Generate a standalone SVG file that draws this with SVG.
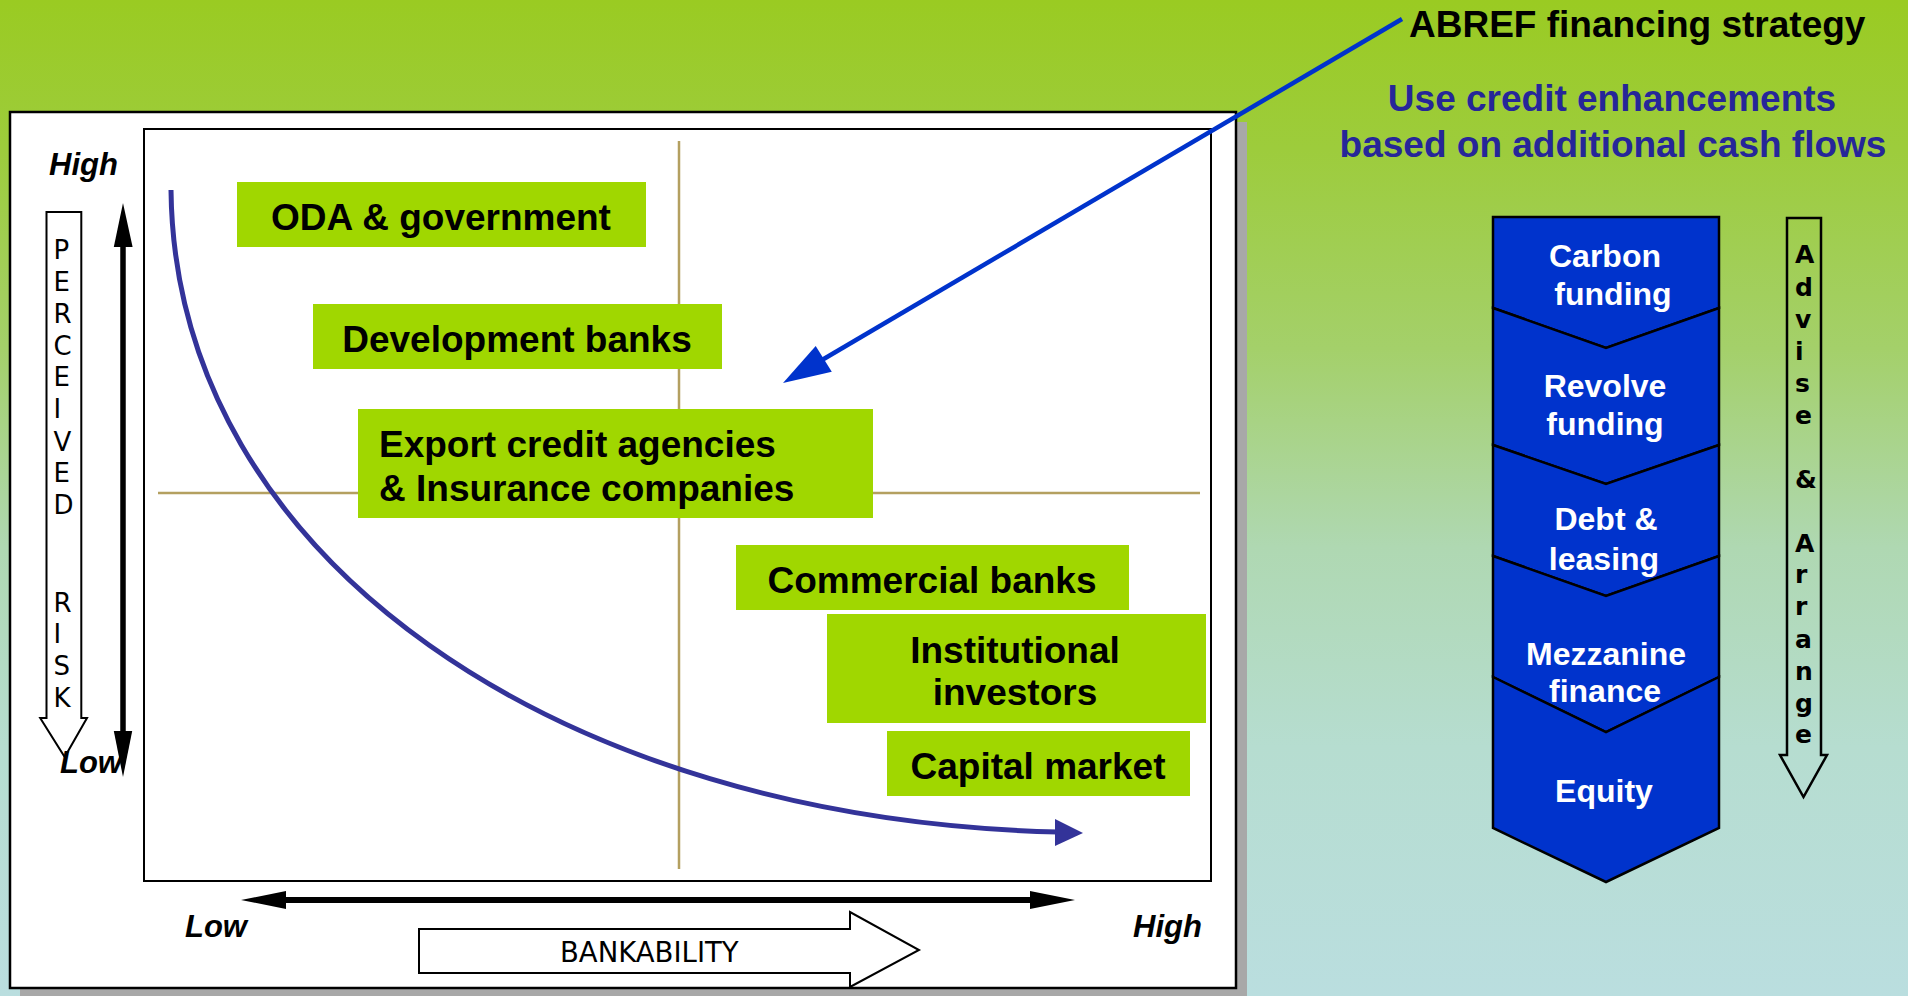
<svg xmlns="http://www.w3.org/2000/svg" width="1908" height="996" viewBox="0 0 1908 996">
<defs>
<linearGradient id="bg" x1="0" y1="0" x2="0" y2="1">
<stop offset="0" stop-color="#9ACB22"/>
<stop offset="0.15" stop-color="#9DCC3C"/>
<stop offset="0.35" stop-color="#A4D06A"/>
<stop offset="0.55" stop-color="#AFD8B2"/>
<stop offset="0.75" stop-color="#B6DDD0"/>
<stop offset="1" stop-color="#BADEDF"/>
</linearGradient>
<style>
.box{fill:#A0D700}
.bt{font-family:"Liberation Sans",Arial,sans-serif;font-weight:bold;font-size:37px;fill:#000}
.ct{font-family:"Liberation Sans",Arial,sans-serif;font-weight:bold;font-size:32px;fill:#fff;text-anchor:middle}
.seg{fill:#0033CC;stroke:#000;stroke-width:2.5;stroke-linejoin:miter}
.vl{font-family:"DejaVu Sans",Verdana,sans-serif;font-size:26px;fill:#000}
.bk{font-family:"DejaVu Sans",Verdana,sans-serif;font-size:27.5px;fill:#000}
.vb{font-family:"DejaVu Sans",Verdana,sans-serif;font-weight:bold;font-size:25px;fill:#000}
.ax{font-family:"Liberation Sans",Arial,sans-serif;font-weight:bold;font-style:italic;font-size:31px;fill:#000}
.hd{font-family:"Liberation Sans",Arial,sans-serif;font-weight:bold;font-size:37px;text-anchor:middle;fill:#262699}
.q{stroke:#B4A060;stroke-width:2.5;fill:none}
</style>
</defs>
<rect x="0" y="0" width="1908" height="996" fill="url(#bg)"/>

<g id="panel">
<rect x="20" y="122" width="1227" height="876" fill="#A8A8A8"/>
<rect x="10" y="112" width="1226" height="876" fill="#fff" stroke="#000" stroke-width="2.5"/>
<rect x="144" y="129" width="1067" height="752" fill="none" stroke="#000" stroke-width="2"/>
<line class="q" x1="679" y1="141" x2="679" y2="869"/>
<line class="q" x1="158" y1="493" x2="1200" y2="493"/>
</g>

<g id="node-oda"><rect class="box" x="237" y="182" width="409" height="65"/><text class="bt" x="441" y="230" text-anchor="middle">ODA &amp; government</text></g>
<g id="node-devbanks"><rect class="box" x="313" y="304" width="409" height="65"/><text class="bt" x="517" y="352" text-anchor="middle">Development banks</text></g>
<g id="node-export"><rect class="box" x="358" y="409" width="515" height="109"/><text class="bt" x="379" y="457">Export credit agencies</text><text class="bt" x="379" y="501">&amp; Insurance companies</text></g>
<g id="node-commercial"><rect class="box" x="736" y="545" width="393" height="65"/><text class="bt" x="932" y="593" text-anchor="middle">Commercial banks</text></g>
<g id="node-institutional"><rect class="box" x="827" y="614" width="379" height="109"/><text class="bt" x="1015" y="663" text-anchor="middle">Institutional</text><text class="bt" x="1015" y="705" text-anchor="middle">investors</text></g>
<g id="node-capital"><rect class="box" x="887" y="731" width="303" height="65"/><text class="bt" x="1038" y="779" text-anchor="middle">Capital market</text></g>

<g id="axes">
<path d="M46.5,212 H81.3 V718 H87 L64.7,757 L40.2,718 H46.5 Z" fill="#fff" stroke="#000" stroke-width="2"/>
<text class="vl" x="53.5" y="259">P</text>
<text class="vl" x="53.5" y="291">E</text>
<text class="vl" x="53.5" y="323">R</text>
<text class="vl" x="53.5" y="355">C</text>
<text class="vl" x="53.5" y="386">E</text>
<text class="vl" x="53.5" y="418">I</text>
<text class="vl" x="53.5" y="451">V</text>
<text class="vl" x="53.5" y="482">E</text>
<text class="vl" x="53.5" y="514">D</text>
<text class="vl" x="53.5" y="612">R</text>
<text class="vl" x="53.5" y="643">I</text>
<text class="vl" x="53.5" y="675">S</text>
<text class="vl" x="53.5" y="707">K</text>
<path d="M419,929 H850 V912 L919,950 L850,987 V973 H419 Z" fill="#fff" stroke="#000" stroke-width="2"/>
<text class="bk" x="560" y="962">BANKABILITY</text>
<text class="ax" x="49" y="175">High</text>
<text class="ax" x="60" y="773">Low</text>
<text class="ax" x="185" y="937">Low</text>
<text class="ax" x="1133" y="937">High</text>
</g>

<g id="connectors">
<line x1="123" y1="245" x2="123" y2="733" stroke="#000" stroke-width="5.5"/>
<polygon points="123,203 113.8,247 132.6,247" fill="#000"/>
<polygon points="123,777 113.8,731 132.2,731" fill="#000"/>
<line x1="284" y1="900" x2="1032" y2="900" stroke="#000" stroke-width="6"/>
<polygon points="241,900 286,891 286,909" fill="#000"/>
<polygon points="1075,900 1030,891 1030,909" fill="#000"/>
<path d="M171,190 C175,560 560,820 1058,832" fill="none" stroke="#333399" stroke-width="5"/>
<polygon points="1055,819 1083,833 1055,846" fill="#333399"/>
<line x1="1402" y1="19" x2="822" y2="360" stroke="#0033CC" stroke-width="4.5"/>
<polygon points="783,383 815.7,346 831.8,371.7" fill="#0033CC"/>
</g>

<g id="node-abref"><text x="1409" y="37" font-family="Liberation Sans, Arial, sans-serif" font-weight="bold" font-size="37" fill="#000">ABREF financing strategy</text></g>
<g id="node-enhance"><text class="hd" x="1612" y="111">Use credit enhancements</text><text class="hd" x="1613" y="157">based on additional cash flows</text></g>

<g id="node-stack">
<polygon class="seg" points="1493,217 1719,217 1719,308 1606,348 1493,308"/>
<polygon class="seg" points="1493,308 1606,348 1719,308 1719,445 1606,484 1493,445"/>
<polygon class="seg" points="1493,445 1606,484 1719,445 1719,556 1606,596 1493,556"/>
<polygon class="seg" points="1493,556 1606,596 1719,556 1719,677 1606,732 1493,677"/>
<polygon class="seg" points="1493,677 1606,732 1719,677 1719,828 1606,882 1493,828"/>
<text class="ct" x="1605" y="267">Carbon</text>
<text class="ct" x="1613" y="305">funding</text>
<text class="ct" x="1605" y="397">Revolve</text>
<text class="ct" x="1605" y="435">funding</text>
<text class="ct" x="1606" y="530">Debt &amp;</text>
<text class="ct" x="1604" y="570">leasing</text>
<text class="ct" x="1606" y="665">Mezzanine</text>
<text class="ct" x="1605" y="702">finance</text>
<text class="ct" x="1604" y="802">Equity</text>
</g>

<g id="node-advise">
<path d="M1787,218 H1821 V755 H1827 L1803.5,797 L1780,755 H1787 Z" fill="none" stroke="#000" stroke-width="2.5"/>
<text class="vb" x="1795" y="263">A</text>
<text class="vb" x="1795" y="296">d</text>
<text class="vb" x="1795" y="328">v</text>
<text class="vb" x="1795" y="360">i</text>
<text class="vb" x="1795" y="392">s</text>
<text class="vb" x="1795" y="424">e</text>
<text class="vb" x="1795" y="488">&amp;</text>
<text class="vb" x="1795" y="552">A</text>
<text class="vb" x="1795" y="583">r</text>
<text class="vb" x="1795" y="615">r</text>
<text class="vb" x="1795" y="648">a</text>
<text class="vb" x="1795" y="680">n</text>
<text class="vb" x="1795" y="712">g</text>
<text class="vb" x="1795" y="743">e</text>
</g>
</svg>
